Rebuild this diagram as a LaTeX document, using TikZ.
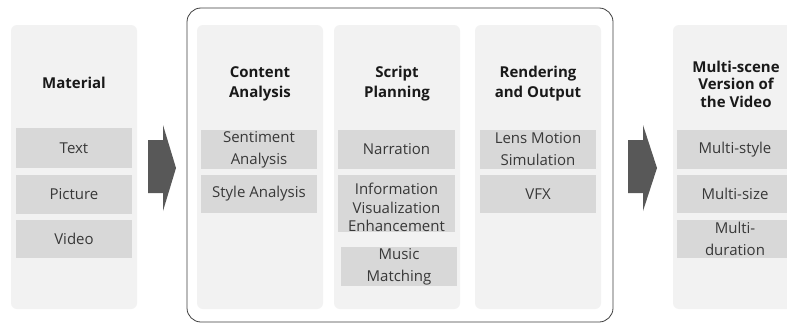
\documentclass[tikz,border=0pt]{standalone}
\usepackage{fontspec}
\setmainfont{Open Sans}
\definecolor{panelgray}{HTML}{F2F2F2}
\definecolor{boxgray}{HTML}{D8D8D8}
\definecolor{arrowgray}{HTML}{585858}
\definecolor{txt}{HTML}{383838}
\begin{document}
\begin{tikzpicture}[x=1pt,y=-1pt,
  panel/.style={fill=panelgray,rounded corners=6pt,inner sep=0pt,minimum width=126pt,minimum height=284pt},
  sub/.style={fill=boxgray,inner sep=0pt,minimum width=116pt,align=center,text=txt,font=\fontsize{15}{22}\selectfont},
  ttl/.style={align=center,font=\fontsize{15}{20}\selectfont\bfseries,text=black!90},
  blockarrow/.style={fill=arrowgray}]
\useasboundingbox (0,0) rectangle (787,324);
\fill[white] (0,0) rectangle (787,324);
% outer frame
\node[draw=black!75,line width=0.8pt,rounded corners=14pt,minimum width=426pt,minimum height=314pt,inner sep=0pt] (frame) at (400,165) {};
% panels
\node[panel] (p1) at (74,167) {};
\node[panel] (p2) at (260,167) {};
\node[panel] (p3) at (397,167) {};
\node[panel] (p4) at (538,167) {};
\node[panel] (p5) at (736,167) {};
% titles
\node[ttl] (t1) at (74,83) {Material};
\node[ttl] (t2) at (260,84) {Content\\Analysis};
\node[ttl] (t3) at (397,84) {Script\\Planning};
\node[ttl] (t4) at (538,84) {Rendering\\and Output};
\node[ttl,font=\fontsize{15}{17.5}\selectfont\bfseries] (t5) at (736,84) {Multi-scene\\Version of\\the Video};
% material items
\node[sub,minimum height=40pt] (m1) at (74,148) {Text};
\node[sub,minimum height=39pt] (m2) at (74,194.5) {Picture};
\node[sub,minimum height=38pt] (m3) at (74,239) {Video};
% content analysis
\node[sub,minimum height=39pt] (c1) at (259,149.5) {Sentiment\\Analysis};
\node[sub,minimum height=38pt] (c2) at (259,194) {Style Analysis};
% script planning
\node[sub,minimum width=117pt,minimum height=57pt,
  label={[align=center,text=txt,font=\fontsize{15}{18.5}\selectfont,yshift=-4pt]center:Information\\Visualization\\Enhancement}] (s2) at (396.5,203.5) {};
\node[sub,minimum width=117pt,minimum height=39pt] (s1) at (396.5,149.5) {Narration};
\node[sub,minimum height=39pt] (s3) at (399,266.5) {Music\\Matching};
% rendering
\node[sub,minimum height=39pt] (r1) at (538,149.5) {Lens Motion\\Simulation};
\node[sub,minimum height=38pt] (r2) at (538,194) {VFX};
% output
\node[sub,minimum height=39pt] (o1) at (735,149.5) {Multi-style};
\node[sub,minimum height=38pt] (o2) at (735,194) {Multi-size};
\node[sub,minimum height=38pt] (o3) at (735,239) {Multi-\\duration};
% block arrows
\fill[blockarrow] (148,140) -- (163,140) -- (163,125) -- (176,168) -- (163,211) -- (163,193) -- (148,193) -- cycle;
\fill[blockarrow] (628,140) -- (643,140) -- (643,125) -- (657,168) -- (643,211) -- (643,193) -- (628,193) -- cycle;
\end{tikzpicture}
\end{document}
